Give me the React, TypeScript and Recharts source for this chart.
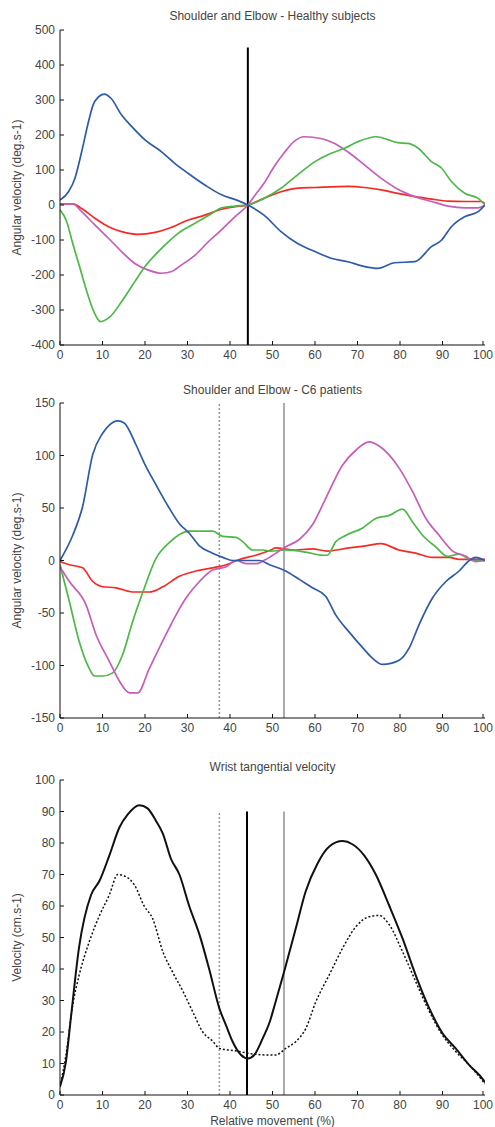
import React from 'react';
import { LineChart, Line, XAxis, YAxis, ReferenceLine } from 'recharts';

const FONT = '"Liberation Sans", Arial, sans-serif';
const TEXT = '#444';

const BLUE = '#2f5aa8';
const GREEN = '#4db848';
const RED = '#f52a22';
const MAGENTA = '#c65db8';

const xTicks = [0, 10, 20, 30, 40, 50, 60, 70, 80, 90, 100];

// Shoulder and Elbow - Healthy subjects
const hBlueX = [0, 2, 3.5, 5.1, 6.7, 7.8, 9, 10.4, 12, 14.5, 16.9, 20, 23.9, 27, 30.2, 34.1, 38, 41.6, 44.2, 48, 52, 55.9, 60, 63.8, 67.7, 71.7, 74.8, 78.7, 83.5, 87.4, 89.8, 92.1, 95.3, 98.4, 100];
const hBlueY = [14, 38, 76, 152, 238, 286, 308, 317, 305, 257, 224, 186, 152, 119, 90, 57, 29, 14, 0, -29, -76, -110, -133, -152, -162, -176, -181, -165, -162, -119, -100, -62, -33, -19, 0];
const hGreenX = [0, 1.5, 3, 4.6, 6.2, 7.8, 9.5, 11.8, 14.5, 17.6, 20, 23.9, 27.8, 31.8, 35.7, 38, 41.2, 44.2, 48, 52, 55.9, 60, 63.8, 66.9, 70.1, 74.4, 79.5, 81.9, 84.3, 87.4, 89.8, 92.1, 95.3, 98.4, 100];
const hGreenY = [-14, -45, -110, -176, -243, -300, -333, -319, -276, -219, -176, -124, -81, -52, -24, -8, -3, 0, 19, 48, 86, 124, 148, 162, 181, 195, 178, 176, 162, 124, 105, 67, 33, 19, 0];
const hRedX = [0, 3, 5.1, 8.2, 11.4, 14.5, 18.4, 22.4, 25.5, 30.2, 34.1, 38, 41.2, 44.2, 48, 52, 55.9, 60, 67.7, 71.7, 75.6, 79.5, 83.5, 87.4, 91.3, 95.3, 99.2, 100];
const hRedY = [3, 3, -10, -38, -62, -76, -84, -78, -67, -43, -29, -12, -5, 0, 19, 38, 48, 50, 53, 50, 43, 33, 24, 17, 11, 10, 10, 3];
const hMagX = [0, 3, 5.1, 8.2, 11.4, 14.5, 17.6, 20.8, 23.9, 26.3, 28.6, 31.8, 34.9, 38, 41.2, 44.2, 46, 48, 50.4, 52.8, 55.1, 57.5, 61.4, 64.6, 67.7, 71.7, 75.6, 79.5, 83.5, 87.4, 91.3, 95.3, 98.4, 100];
const hMagY = [3, 3, -19, -57, -95, -133, -167, -186, -195, -190, -171, -143, -105, -71, -33, 0, 30, 62, 110, 150, 182, 195, 190, 176, 152, 114, 76, 45, 24, 10, -3, -8, -8, 0];

// Shoulder and Elbow - C6 patients
const cBlueX = [0, 3, 5.3, 7.7, 10, 11.6, 13.6, 15.1, 17.9, 19.8, 22.6, 25.7, 28.1, 30.4, 32.8, 35.9, 38.3, 40.6, 43, 47, 49.3, 53.1, 56.3, 59.4, 62.5, 64.9, 68, 71.2, 73.5, 75.9, 79.8, 82.2, 84.5, 87.6, 90.8, 93.9, 96.3, 97.8, 100];
const cBlueY = [0, 24, 51, 101, 121, 129, 133, 131, 110, 93, 72, 50, 35, 26, 14, 7, 3, 0, 0, 0, -4, -10, -18, -26, -34, -52, -68, -83, -93, -99, -95, -83, -61, -36, -20, -10, 0, 3, 0];
const cGreenX = [0, 2.2, 4.5, 6.9, 8.1, 10, 12.4, 14.7, 17.1, 19.5, 22.6, 25.7, 30.4, 35.9, 38.3, 41.4, 43, 45.3, 47.7, 49.6, 53.1, 57.8, 61.8, 62.9, 64.9, 67.3, 71.2, 74.3, 77.5, 80.6, 82.9, 85.3, 88.4, 91.2, 93.9, 97.1, 100];
const cGreenY = [-4, -39, -77, -103, -110, -110, -107, -90, -58, -30, 2, 17, 28, 28, 23, 22, 18, 10, 10, 9, 10, 8, 5, 5, 18, 24, 31, 40, 43, 49, 37, 24, 13, 4, 6, 0, 0];
const cRedX = [0, 2.2, 5.3, 7.7, 10, 13.2, 17.1, 21, 24.2, 28.1, 32, 35.9, 39.1, 42.2, 46.1, 49.6, 50.8, 54.7, 59.4, 62.9, 68, 72, 75.5, 79.8, 83.7, 87.6, 91.6, 93.9, 100];
const cRedY = [-1, -4, -7, -20, -25, -26, -30, -30, -25, -15, -10, -7, -4, 1, 5, 10, 12, 10, 11, 9, 12, 14, 16, 10, 7, 3, 3, 1, 1];
const cMagX = [0, 2.2, 6.1, 8.5, 11.6, 14, 16.3, 18.3, 21, 23.4, 26.5, 29.6, 32.8, 35.9, 39.1, 41.4, 43.8, 46.1, 48.4, 53.1, 56.3, 59.4, 62.5, 66.5, 69.6, 72.7, 75.1, 79.8, 82.9, 86.1, 89.2, 92.4, 95.5, 97.8, 100];
const cMagY = [-6, -20, -42, -71, -96, -115, -126, -126, -103, -83, -58, -36, -20, -9, -6, 0, -3, -3, 1, 13, 20, 34, 59, 91, 105, 113, 109, 88, 66, 40, 24, 9, 4, -1, 0];

// Wrist tangential velocity
const wHealthyX = [0, 1.4, 2.6, 4.5, 7.3, 9.3, 11.6, 14, 15.9, 18.7, 20.6, 22.6, 24.2, 26.1, 28.1, 30.4, 32.8, 35.1, 37.5, 39.1, 40.6, 42.6, 44.2, 45.7, 47.7, 49.3, 50.4, 52.7, 55.5, 57.8, 60.6, 63.3, 66.5, 68.8, 71.6, 74.3, 77.5, 80.6, 83.7, 86.9, 90, 93.1, 96.3, 99.6, 100];
const wHealthyY = [2.6, 10.6, 25, 47, 63.5, 68, 76, 85, 89, 92, 91, 87, 83, 75, 70, 60, 51, 40, 27.5, 22, 17, 12.7, 11.6, 12.7, 18, 23, 28, 39, 53, 64.6, 73.5, 78.8, 80.6, 79.6, 76, 70, 60, 49.7, 38, 27.5, 19.6, 14.8, 9.5, 4.8, 4];
const wC6X = [0, 1.4, 3, 4.5, 6.9, 9.3, 11.6, 13.6, 15.9, 17.5, 19.8, 21.8, 24.2, 26.5, 28.9, 31.2, 33.6, 36, 37.5, 39.8, 42.2, 44.5, 49.3, 50.8, 53.1, 55.5, 57.8, 60.2, 63.3, 66.5, 69.6, 72.7, 75.1, 77.5, 80.6, 83.7, 86.9, 90, 93.1, 96.3, 99.6, 100];
const wC6Y = [2.6, 12.7, 28.6, 38, 48.7, 57, 63.5, 70, 69, 66.7, 60, 56, 45.5, 39, 33, 26.5, 20, 17, 14.8, 14.3, 13.8, 13.2, 12.7, 12.7, 14.8, 17, 21, 29.6, 38, 46.6, 53.4, 56.6, 57, 54, 45.5, 36, 26.5, 19, 13.8, 9.5, 4.2, 3.5];

const zip = (xs: number[], ys: number[]) => xs.map((x, i) => ({ x, v: ys[i] }));

const XTick = (props: any) => {
  const { x, y, payload } = props;
  return (
    <g>
      <line x1={x} x2={x} y1={y} y2={y - 4} stroke="#111" />
      <text x={x} y={y + 14} textAnchor="middle" fontSize={12} fontFamily={FONT} fill={TEXT}>
        {payload.value}
      </text>
    </g>
  );
};

const YTick = (props: any) => {
  const { x, y, payload } = props;
  return (
    <g>
      <line x1={x} x2={x + 4} y1={y} y2={y} stroke="#111" />
      <text x={x - 5} y={y + 4} textAnchor="end" fontSize={12} fontFamily={FONT} fill={TEXT}>
        {payload.value}
      </text>
    </g>
  );
};

type Series = { xs: number[]; ys: number[]; color: string; width?: number; dash?: string };
type VLine = { x: number; y0: number; y1: number; color: string; width: number; dash?: string };

const Panel = ({ top, height, mTop, xAxisH, domain, yTicks, yLabel, series, vlines }: {
  top: number; height: number; mTop: number; xAxisH: number; domain: [number, number];
  yTicks: number[]; yLabel: string; series: Series[]; vlines: VLine[];
}) => (
  <div style={{ position: 'absolute', left: 0, top }}>
    <LineChart width={495} height={height} margin={{ top: mTop, right: 10, left: 5, bottom: 0 }}>
      <XAxis
        dataKey="x"
        type="number"
        domain={[0, 100]}
        ticks={xTicks}
        height={xAxisH}
        tickSize={0}
        tickMargin={0}
        tickLine={false}
        tick={<XTick />}
        axisLine={{ stroke: '#111' }}
        allowDataOverflow
      />
      <YAxis
        type="number"
        domain={domain}
        ticks={yTicks}
        width={55}
        tickSize={0}
        tickMargin={0}
        tickLine={false}
        tick={<YTick />}
        axisLine={{ stroke: '#111' }}
        label={{
          value: yLabel,
          angle: -90,
          position: 'insideLeft',
          offset: 12,
          style: { textAnchor: 'middle', fontSize: 12, fontFamily: FONT, fill: TEXT },
        }}
      />
      {vlines.map((l, i) => (
        <ReferenceLine
          key={'r' + i}
          segment={[{ x: l.x, y: l.y0 }, { x: l.x, y: l.y1 }]}
          stroke={l.color}
          strokeWidth={l.width}
          strokeDasharray={l.dash}
        />
      ))}
      {series.map((s, i) => (
        <Line
          key={'s' + i}
          data={zip(s.xs, s.ys)}
          dataKey="v"
          type="monotone"
          stroke={s.color}
          strokeWidth={s.width ?? 1.7}
          strokeDasharray={s.dash}
          dot={false}
          activeDot={false}
          isAnimationActive={false}
        />
      ))}
    </LineChart>
  </div>
);

const Title = ({ top, text }: { top: number; text: string }) => (
  <div
    style={{
      position: 'absolute', left: 60, top, width: 425, textAlign: 'center',
      fontFamily: FONT, fontSize: 12, lineHeight: '14px', color: TEXT,
    }}
  >
    {text}
  </div>
);

export default function App() {
  return (
    <div style={{ position: 'absolute', left: 0, top: 0, width: 495, height: 1127, background: '#fff' }}>
      <Panel
        top={740}
        height={387}
        mTop={40}
        xAxisH={32}
        domain={[0, 100]}
        yTicks={[0, 10, 20, 30, 40, 50, 60, 70, 80, 90, 100]}
        yLabel="Velocity (cm.s-1)"
        vlines={[
          { x: 37.5, y0: 0, y1: 90, color: '#999', width: 1.5, dash: '2 2' },
          { x: 44, y0: 0, y1: 90, color: '#000', width: 2 },
          { x: 52.7, y0: 0, y1: 90, color: '#aaa', width: 2 },
        ]}
        series={[
          { xs: wC6X, ys: wC6Y, color: '#111', width: 1.5, dash: '2 2' },
          { xs: wHealthyX, ys: wHealthyY, color: '#111', width: 2 },
        ]}
      />
      <Panel
        top={360}
        height={385}
        mTop={43}
        xAxisH={27}
        domain={[-150, 150]}
        yTicks={[-150, -100, -50, 0, 50, 100, 150]}
        yLabel="Angular velocity (deg.s-1)"
        vlines={[
          { x: 37.5, y0: -150, y1: 150, color: '#999', width: 1.5, dash: '2 2' },
          { x: 52.7, y0: -150, y1: 150, color: '#aaa', width: 2 },
        ]}
        series={[
          { xs: cRedX, ys: cRedY, color: RED },
          { xs: cGreenX, ys: cGreenY, color: GREEN },
          { xs: cMagX, ys: cMagY, color: MAGENTA },
          { xs: cBlueX, ys: cBlueY, color: BLUE },
        ]}
      />
      <Panel
        top={0}
        height={370}
        mTop={30}
        xAxisH={25}
        domain={[-400, 500]}
        yTicks={[-400, -300, -200, -100, 0, 100, 200, 300, 400, 500]}
        yLabel="Angular velocity (deg.s-1)"
        vlines={[{ x: 44.2, y0: -400, y1: 450, color: '#000', width: 2 }]}
        series={[
          { xs: hRedX, ys: hRedY, color: RED },
          { xs: hMagX, ys: hMagY, color: MAGENTA },
          { xs: hGreenX, ys: hGreenY, color: GREEN },
          { xs: hBlueX, ys: hBlueY, color: BLUE },
        ]}
      />
      <Title top={9} text="Shoulder and Elbow - Healthy subjects" />
      <Title top={383} text="Shoulder and Elbow - C6 patients" />
      <Title top={760} text="Wrist tangential velocity" />
      <Title top={1114} text="Relative movement (%)" />
    </div>
  );
}
